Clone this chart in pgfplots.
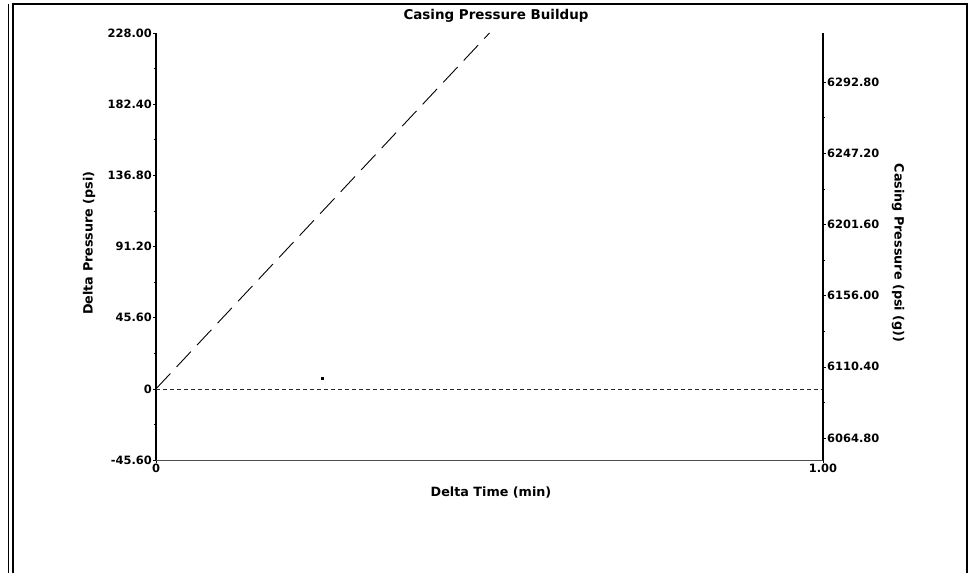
\documentclass[border=0pt]{standalone}
\usepackage{fontspec}
\setmainfont{DejaVu Sans}
\usepackage{pgfplots}
\pgfplotsset{compat=1.18}
\begin{document}
\begin{tikzpicture}
\path[use as bounding box] (0,0) rectangle (973bp,573bp);
\fill[white] (0,0) rectangle (973bp,573bp);
% outer frame
\draw[line width=0.8bp] (8bp,0) -- (8bp,569bp);
\draw[line width=1.2bp] (13bp,0) -- (13bp,569bp) -- (967bp,569bp) -- (967bp,0);
\pgfplotsset{every axis/.append style={
  at={(156bp,113bp)}, anchor=south west, scale only axis,
  width=667bp, height=427bp, xmin=0, xmax=1,
  tick align=outside, major tick length=3bp, minor tick length=2bp,
  tick style={black, line width=0.6bp},
  ticklabel style={font=\fontsize{11.5}{13}\selectfont\bfseries, inner sep=1bp},
  /pgf/number format/assume math mode=true,
}}
\begin{axis}[
  ymin=-45.6, ymax=228,
  axis x line*=bottom, axis y line*=left,
  y axis line style={line width=1.6bp},
  x axis line style={line width=0.8bp, black!70},
  xtick={0,1}, xticklabels={0,1.00},
  ytick={-45.6,0,45.6,91.2,136.8,182.4,228},
  yticklabels={-45.60,0,45.60,91.20,136.80,182.40,228.00},
  minor y tick num=1,
]
\addplot[black!85, line width=0.6bp, dash pattern=on 4bp off 3bp] coordinates {(0,0) (1,0)};
\addplot[black, line width=0.9bp, dash pattern=on 21bp off 9bp] coordinates {(0,0) (0.5,228)};
\addplot[only marks, mark=square*, mark size=1bp, black] coordinates {(0.249,6.9)};
\end{axis}
\begin{axis}[
  ymin=6050.7, ymax=6324.3,
  hide x axis, axis y line*=right,
  y axis line style={line width=1.6bp},
  ytick={6064.8,6110.4,6156,6201.6,6247.2,6292.8},
  yticklabels={6064.80,6110.40,6156.00,6201.60,6247.20,6292.80},
  minor y tick num=1,
]
\end{axis}
\node[font=\fontsize{13.5}{15}\selectfont\bfseries] at (496bp,557bp) {Casing Pressure Buildup};
\node[font=\fontsize{12.8}{15}\selectfont\bfseries] at (491bp,81bp) {Delta Time (min)};
\node[font=\fontsize{12.8}{15}\selectfont\bfseries, rotate=90] at (89bp,330bp) {Delta Pressure (psi)};
\node[font=\fontsize{12.8}{15}\selectfont\bfseries, rotate=-90] at (898bp,320bp) {Casing Pressure (psi (g))};
\end{tikzpicture}
\end{document}
